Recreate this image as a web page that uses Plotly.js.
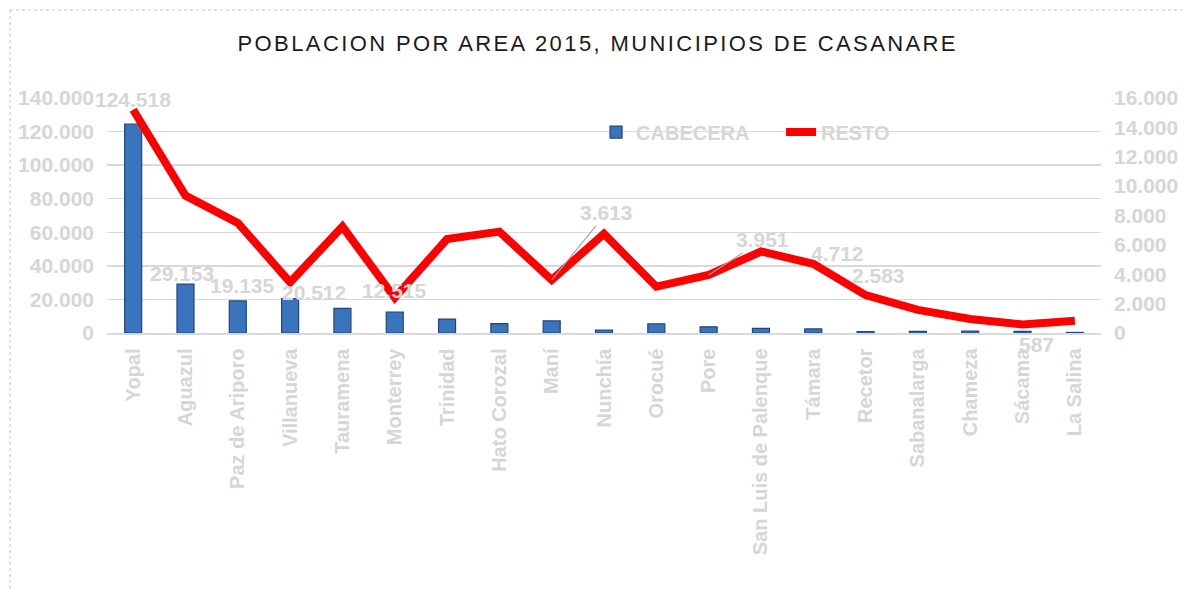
<!DOCTYPE html>
<html>
<head>
<meta charset="utf-8">
<script src="https://cdn.plot.ly/plotly-3.0.1.min.js"></script>
<style>html,body{margin:0;padding:0;background:#fff;}#chart{width:1186px;height:592px;}</style>
</head>
<body>
<div id="chart"></div>
<script>
const categories = ['Yopal','Aguazul','Paz de Ariporo','Villanueva','Tauramena','Monterrey','Trinidad','Hato Corozal','Maní','Nunchía','Orocué','Pore','San Luis de Palenque','Támara','Recetor','Sabanalarga','Chameza','Sácama','La Salina'];
const cabecera = [124518, 29153, 19135, 20512, 14700, 12515, 8300, 5600, 7200, 1800, 5500, 3700, 2700, 2400, 900, 1000, 1200, 1000, 350];
const resto = [15200, 9350, 7500, 3450, 7250, 2400, 6400, 6900, 3613, 6750, 3150, 3951, 5550, 4712, 2583, 1570, 950, 587, 840];
const cabeceraLabeled = ['Yopal','Aguazul','Paz de Ariporo','Villanueva','Monterrey'];
const restoLabeled = ['Maní','Pore','Támara','Recetor','Sácama'];
const leftTicks = [0,20000,40000,60000,80000,100000,120000,140000];
const rightTicks = [0,2000,4000,6000,8000,10000,12000,14000,16000];

function fmt(v){ return String(v).replace(/\B(?=(\d{3})+(?!\d))/g, '.'); }

const FONT = 'Liberation Sans, Arial, sans-serif';
const GRAY = '#d6d6d6';
const labelFont = {family:FONT, size:21, color:GRAY, weight:'bold'};

// label offsets (px) relative to the data point
const cabOffsets = {'Yopal':[0,24],'Aguazul':[-3,11],'Paz de Ariporo':[5,15],'Villanueva':[24,6],'Monterrey':[0,21]};
const restoOffsets = {'Maní':{ax:55,ay:-67,arrow:true},'Pore':{ax:54,ay:-35,arrow:true},'Támara':{dx:24,dy:10},'Recetor':{dx:13,dy:20},'Sácama':{dx:14,dy:-20}};

const annotations = [];
cabeceraLabeled.forEach(name => {
  const i = categories.indexOf(name);
  const o = cabOffsets[name];
  annotations.push({x:name, y:cabecera[i], xref:'x', yref:'y', text:fmt(cabecera[i]), showarrow:false,
    xshift:o[0], yshift:o[1], font:labelFont});
});
restoLabeled.forEach(name => {
  const i = categories.indexOf(name);
  const o = restoOffsets[name];
  if (o.arrow) {
    annotations.push({x:name, y:resto[i], xref:'x', yref:'y2', text:fmt(resto[i]), showarrow:true,
      arrowhead:0, arrowwidth:1.2, arrowcolor:'#a6a6a6', ax:o.ax, ay:o.ay, standoff:0,
      font:labelFont});
  } else {
    annotations.push({x:name, y:resto[i], xref:'x', yref:'y2', text:fmt(resto[i]), showarrow:false,
      xshift:o.dx, yshift:o.dy, font:labelFont});
  }
});

const traces = [
  {type:'bar', name:'CABECERA', x:categories, y:cabecera, yaxis:'y',
   marker:{color:'#3a74bd', line:{color:'#22467a', width:1.2}}, hoverinfo:'x+y'},
  {type:'scatter', mode:'lines', name:'RESTO', x:categories, y:resto, yaxis:'y2',
   line:{color:'#ff0000', width:8, shape:'linear'}, hoverinfo:'x+y'}
];

const layout = {
  width:1186, height:592,
  margin:{l:107, r:85, t:98, b:259},
  paper_bgcolor:'#ffffff', plot_bgcolor:'#ffffff',
  separators:',.',
  title:{text:'POBLACION POR AREA 2015, MUNICIPIOS DE CASANARE', x:0.504, xref:'container', y:0.927, yref:'container', yanchor:'middle',
    font:{family:FONT, size:22, color:'#1a1a1a'}},
  bargap:0.675,
  showlegend:true,
  legend:{orientation:'h', x:0.492, y:0.855, xanchor:'left', yanchor:'middle', bgcolor:'rgba(0,0,0,0)',
    entrywidth:140, font:{family:FONT, size:20, color:GRAY, weight:'bold'}},
  xaxis:{type:'category', range:[-0.5, categories.length - 0.5], tickangle:-90, showgrid:false, showline:true, linecolor:'#d9d9d9', linewidth:1.5,
    ticks:'', tickfont:{family:FONT,size:20,color:GRAY,weight:'bold'}, ticklabelstandoff:6, automargin:false, fixedrange:true},
  yaxis:{range:[0,140000], tickvals:leftTicks, ticktext:leftTicks.map(fmt), showgrid:true, gridcolor:'#d9d9d9', gridwidth:1.5,
    zeroline:false, ticks:'', tickfont:{family:FONT,size:21,color:GRAY,weight:'bold'}, ticklabelstandoff:12, automargin:false, fixedrange:true},
  yaxis2:{range:[0,16000], overlaying:'y', side:'right', tickvals:rightTicks, ticktext:rightTicks.map(fmt), showgrid:false,
    zeroline:false, ticks:'', tickfont:{family:FONT,size:21,color:GRAY,weight:'bold'}, ticklabelstandoff:12, automargin:false, fixedrange:true},
  annotations:annotations,
  shapes:[
    {type:'line', xref:'paper', yref:'paper', x0:-0.0976, x1:1.0855, y0:1.3745, y1:1.3745, line:{color:'#c4c4c4', width:1, dash:'dot'}},
    {type:'line', xref:'paper', yref:'paper', x0:-0.0976, x1:-0.0976, y0:1.3745, y1:-1.102, line:{color:'#c4c4c4', width:1, dash:'dot'}}
  ]
};

Plotly.newPlot('chart', traces, layout, {displayModeBar:false, staticPlot:true}).then(gd => {
  const t = gd.querySelector('.gtitle');
  if (t) t.style.letterSpacing = '2.4px';
});
</script>
</body>
</html>
